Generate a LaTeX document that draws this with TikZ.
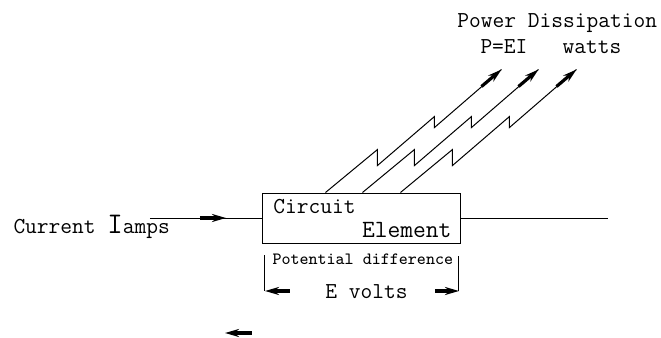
\documentclass[tikz,border=0pt]{standalone}
\usetikzlibrary{positioning,arrows.meta,calc}

\begin{document}
\begin{tikzpicture}[
  x=0.5pt, y=-0.5pt,
  line width=0.5pt,
  >={Stealth[length=7pt,width=4pt]},
  every node/.style={font=\ttfamily\fontsize{11.4}{13}\selectfont,inner sep=0pt},
  flow/.style={line width=1.6pt}
]
\useasboundingbox (0,0) rectangle (661,338);
% circuit element
\node[draw,line width=0.5pt,minimum width=99pt,minimum height=25pt] (elem) at (362,218) {};
\node[anchor=base west] (circ) at (273,213) {Circuit};
\node[anchor=base east,font=\ttfamily\fontsize{12.4}{14}\selectfont] (elt) at (452,237) {Element};
% current in and out
\node[anchor=base west] (cur) at (13,233) {Current {\fontsize{15}{15}\selectfont I}amps};
\coordinate (inl) at (150,218);
\coordinate (outr) at (608,218);
\draw (inl) -- (elem.west);
\draw (elem.east) -- (outr);
\draw[->,flow] (200,218) -- (226,218);
% potential difference
\node[anchor=base west,font=\ttfamily\fontsize{8.6}{10}\selectfont] (pd) at (272,264) {Potential difference};
\node[anchor=base west] (ev) at (325,298) {E volts};
\coordinate (bl) at (265,291);
\coordinate (br) at (459,291);
\draw (265,255) -- (bl);
\draw (459,256) -- (br);
\draw[<-,flow] (bl) -- (290,291);
\draw[->,flow] (435,291) -- (br);
\draw[<-,flow] (225,333) -- (252,333);
% power dissipation
\node[anchor=base west] (pow) at (457,27) {Power Dissipation};
\node[anchor=base west] (pei) at (480,53) {P=EI~~~watts};
\foreach \d in {0,37,75} {
  \draw ($(elem.north west)+(63+\d,0)$) -- ++(52,-43) -- ++(0,16) -- ++(57,-49)
    -- ++(0,11) -- ++(67,-58) coordinate (tip);
  \draw[->,flow] ($(tip)+(-20,17)$) -- (tip);
}
\end{tikzpicture}
\end{document}
